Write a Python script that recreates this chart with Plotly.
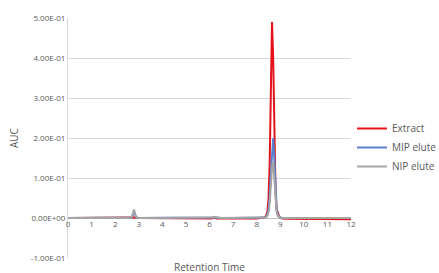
import plotly.graph_objects as go

times = [0, 0.5, 1.0, 1.5, 2.0, 2.5, 2.7, 2.75, 2.8, 2.85, 2.9, 3.0, 3.5, 4.0, 4.5, 5.0, 5.5,
         6.0, 6.1, 6.2, 6.3, 6.5, 7.0, 7.5, 8.0, 8.3, 8.4, 8.45, 8.5, 8.55, 8.6, 8.65, 8.7,
         8.75, 8.8, 8.85, 8.9, 8.95, 9.0, 9.1, 9.3, 9.5, 10.0, 10.5, 11.0, 11.5, 12.0]

extract = [0, 0, 0, 0, 0.001, 0, 0, 0.001, 0.002, 0.001, 0, 0, 0, 0, 0, 0, -0.001,
           -0.001, -0.001, 0.001, -0.001, -0.001, -0.001, -0.001, -0.001, 0.001, 0.005, 0.015, 0.045, 0.13, 0.33, 0.49, 0.40,
           0.19, 0.065, 0.022, 0.009, 0.004, 0.001, -0.001, -0.002, -0.002, -0.003, -0.003, -0.003, -0.003, -0.003]

mip = [0, 0, 0, 0, 0.001, 0, 0.001, 0.008, 0.015, 0.007, 0.001, 0, 0, 0, 0, 0, 0,
       0, 0.001, 0.002, 0.001, 0, 0, 0, 0, 0.001, 0.003, 0.008, 0.02, 0.05, 0.11, 0.17, 0.20,
       0.15, 0.06, 0.02, 0.007, 0.003, 0.001, 0, 0, 0, 0, 0, 0, 0, 0]

nip = [0, 0, 0, 0, 0.001, 0, 0.002, 0.012, 0.021, 0.010, 0.002, 0, 0, 0, 0, 0, 0,
       0, 0.001, 0.003, 0.001, 0, 0, 0, 0, 0.001, 0.002, 0.005, 0.013, 0.035, 0.08, 0.125, 0.14,
       0.10, 0.04, 0.013, 0.005, 0.002, 0.001, 0, 0, 0, 0, 0, 0, 0, 0]

series = [("Extract", extract, "#E3121B"), ("MIP elute", mip, "#5A7FCC"), ("NIP elute", nip, "#A5A5A5")]

ytick_vals = [-0.1, 0, 0.1, 0.2, 0.3, 0.4, 0.5]
ytick_text = ["-1.00E-01", "0.00E+00", "1.00E-01", "2.00E-01", "3.00E-01", "4.00E-01", "5.00E-01"]
xtick_vals = list(range(0, 13))

fig = go.Figure()
for name, vals, col in series:
    fig.add_trace(go.Scatter(x=times, y=vals, mode="lines", name=name,
                             line=dict(color=col, width=2)))

fig.update_layout(
    width=439, height=273,
    margin=dict(l=68, r=88, t=18, b=15, autoexpand=False),
    paper_bgcolor="white", plot_bgcolor="white",
    font=dict(family="Open Sans", color="#595959"),
    showlegend=True,
    legend=dict(xref="container", yref="container", x=352/439, y=1 - 114/273,
                xanchor="left", yanchor="top",
                font=dict(size=10, color="#595959"), tracegroupgap=0,
                bgcolor="rgba(0,0,0,0)", itemwidth=30),
    xaxis=dict(range=[0, 12], tickvals=xtick_vals, showgrid=False, zeroline=False,
               anchor="free", position=1/6, showline=False, ticks="",
               tickfont=dict(size=8, color="#595959")),
    yaxis=dict(range=[-0.1, 0.5], tickvals=ytick_vals, ticktext=ytick_text,
               showgrid=True, gridcolor="#D9D9D9", gridwidth=1, zeroline=True,
               zerolinecolor="#BFBFBF", zerolinewidth=1,
               showline=True, linecolor="#D9D9D9", linewidth=1, ticks="",
               tickfont=dict(size=8, color="#595959")),
)
fig.add_annotation(text="Retention Time", x=0.5, y=-9/240, xref="paper", yref="paper",
                   yanchor="middle", showarrow=False, font=dict(size=10, color="#595959"))
fig.add_annotation(text="AUC", x=(14 - 68) / 283, y=0.5, xref="paper", yref="paper",
                   xanchor="center", yanchor="middle", textangle=-90, showarrow=False,
                   font=dict(size=10, color="#595959"))

fig.write_html("out.html", config={"displayModeBar": False},
               post_script="document.body.style.margin='0';")
